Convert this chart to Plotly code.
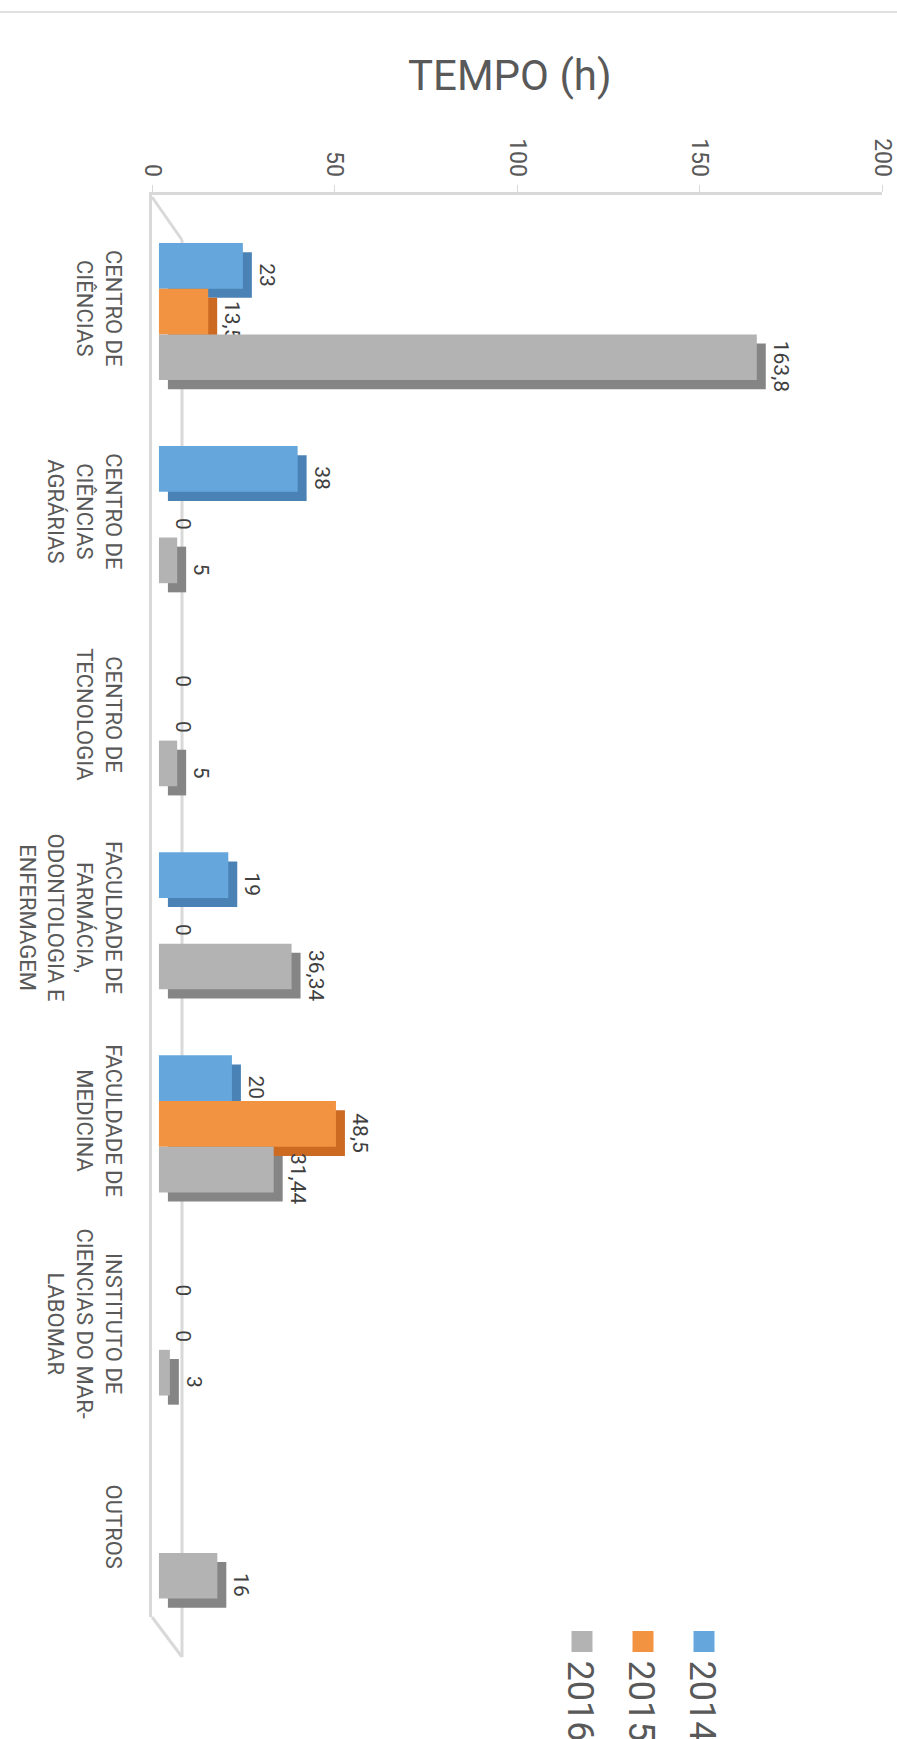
import plotly.graph_objects as go

# ---------------- data ----------------
categories = [
    "CENTRO DE<br>CIÊNCIAS",
    "CENTRO DE<br>CIÊNCIAS<br>AGRÁRIAS",
    "CENTRO DE<br>TECNOLOGIA",
    "FACULDADE DE<br>FARMÁCIA,<br>ODONTOLOGIA E<br>ENFERMAGEM",
    "FACULDADE DE<br>MEDICINA",
    "INSTITUTO DE<br>CIENCIAS DO MAR-<br>LABOMAR",
    "OUTROS",
]
series_names = ["2014", "2015", "2016"]
values_2014 = [23, 38, 0, 19, 20, 0, None]
values_2015 = [13.5, 0, 0, 0, 48.5, 0, None]
values_2016 = [163.8, 5, 5, 36.34, 31.44, 3, 16]
x_ticks = [0, 50, 100, 150, 200]
chart_title = "TEMPO (h)"

# ---------------- styling ----------------
front_colors = ["#65a7dd", "#f29342", "#b3b3b3"]
side_colors = ["#4a82b6", "#cc6a22", "#858585"]
FONT = "Roboto"
W, H = 897, 1739
PLOT_LEFT, PLOT_RIGHT, PLOT_TOP, PLOT_BOTTOM = 152, 882, 195, 1617   # page pixels
L = PLOT_LEFT
R = W - PLOT_RIGHT
T = PLOT_TOP
B = H - PLOT_BOTTOM


def px_x(X):
    """page pixel x -> paper x"""
    return (X - PLOT_LEFT) / (PLOT_RIGHT - PLOT_LEFT)


def px_y(Y):
    """page pixel y -> paper y"""
    return (PLOT_BOTTOM - Y) / (PLOT_BOTTOM - PLOT_TOP)


def fmt(v):
    if v is None:
        return ""
    return f"{v:g}".replace(".", ",")


series_values = [values_2014, values_2015, values_2016]
cat_idx = list(range(len(categories)))
bar_w = 0.225
offsets = [-0.3375, -0.1125, 0.1125]
front_base = 1.9   # perspective: front face starts slightly right of the back wall
depth_y = 0.045    # category units (3D depth, downward)
depth_x = 2.46     # value units (3D depth, rightward)

fig = go.Figure()
for name, vals, off, fc, sc in zip(series_names, series_values, offsets, front_colors, side_colors):
    # 3D depth face (drawn behind), carries the data labels
    fig.add_trace(go.Bar(
        y=cat_idx, x=vals, base=front_base + depth_x, orientation="h",
        offset=off + depth_y, width=bar_w,
        marker=dict(color=sc, line=dict(width=0)),
        text=[fmt(v) for v in vals], textposition="outside", textangle=90,
        constraintext="none", cliponaxis=False,
        textfont=dict(family=FONT, size=21, color="#404040"),
        showlegend=False, hoverinfo="skip",
    ))
    # front face
    fig.add_trace(go.Bar(
        y=cat_idx, x=vals, base=front_base, orientation="h",
        offset=off, width=bar_w,
        marker=dict(color=fc, line=dict(width=0)),
        name=name, showlegend=False,
    ))

grid_col = "#d9d9d9"
shapes = [
    # chart border line at top
    dict(type="line", xref="paper", yref="paper", x0=px_x(0), x1=px_x(897),
         y0=px_y(12), y1=px_y(12), line=dict(color="#e0e0e0", width=2)),
    # 3D floor front line and diagonals
    dict(type="line", xref="paper", yref="paper", x0=px_x(182), x1=px_x(182),
         y0=px_y(240), y1=px_y(1657), line=dict(color=grid_col, width=3), layer="below"),
    dict(type="line", xref="paper", yref="paper", x0=px_x(152), x1=px_x(182),
         y0=px_y(197), y1=px_y(240), line=dict(color=grid_col, width=3), layer="below"),
    dict(type="line", xref="paper", yref="paper", x0=px_x(152), x1=px_x(182),
         y0=px_y(1617), y1=px_y(1657), line=dict(color=grid_col, width=3), layer="below"),
]

annotations = [
    dict(text=chart_title, xref="paper", yref="paper", x=px_x(510), y=px_y(76),
         xanchor="center", yanchor="middle", showarrow=False,
         font=dict(family=FONT, size=42, color="#595959")),
]

# rotated legend (2016 left, 2014 right)
legend_x = {"2014": 704, "2015": 643, "2016": 582}
for name, fc in zip(series_names, front_colors):
    cx = legend_x[name]
    shapes.append(dict(type="rect", xref="paper", yref="paper",
                       x0=px_x(cx - 10.5), x1=px_x(cx + 10.5),
                       y0=px_y(1631), y1=px_y(1652),
                       fillcolor=fc, line=dict(width=0)))
    annotations.append(dict(text=name, xref="paper", yref="paper",
                            x=px_x(cx - 2), y=px_y(1658), xanchor="center", yanchor="top",
                            textangle=90, showarrow=False,
                            font=dict(family=FONT, size=36, color="#595959")))

fig.update_layout(
    width=W, height=H,
    margin=dict(l=L, r=R, t=T, b=B, pad=0, autoexpand=False),
    paper_bgcolor="white", plot_bgcolor="white",
    barmode="overlay",
    shapes=shapes, annotations=annotations,
    font=dict(family=FONT, color="#595959"),
    xaxis=dict(
        side="top", range=[0, 200], tickvals=x_ticks, ticktext=[str(t) for t in x_ticks],
        tickangle=90, showgrid=False, zeroline=False, automargin=False,
        showline=True, linecolor=grid_col, linewidth=3,
        ticks="outside", ticklen=7, tickcolor=grid_col, tickwidth=1,
        ticklabelstandoff=0, ticklabeloverflow="allow",
        tickfont=dict(family=FONT, size=23, color="#595959"),
    ),
    yaxis=dict(
        range=[6.428, -0.574], tickvals=cat_idx, ticktext=categories,
        tickangle=90, showgrid=False, zeroline=False, automargin=False,
        showline=True, linecolor=grid_col, linewidth=3, ticks="",
        ticklabelstandoff=17, ticklabeloverflow="allow",
        tickfont=dict(family=FONT, size=22, color="#595959"),
    ),
)

fig.write_html(
    "out.html",
    config={"displayModeBar": False},
    post_script="document.body.style.margin='0px'; document.body.style.overflow='hidden';",
)
